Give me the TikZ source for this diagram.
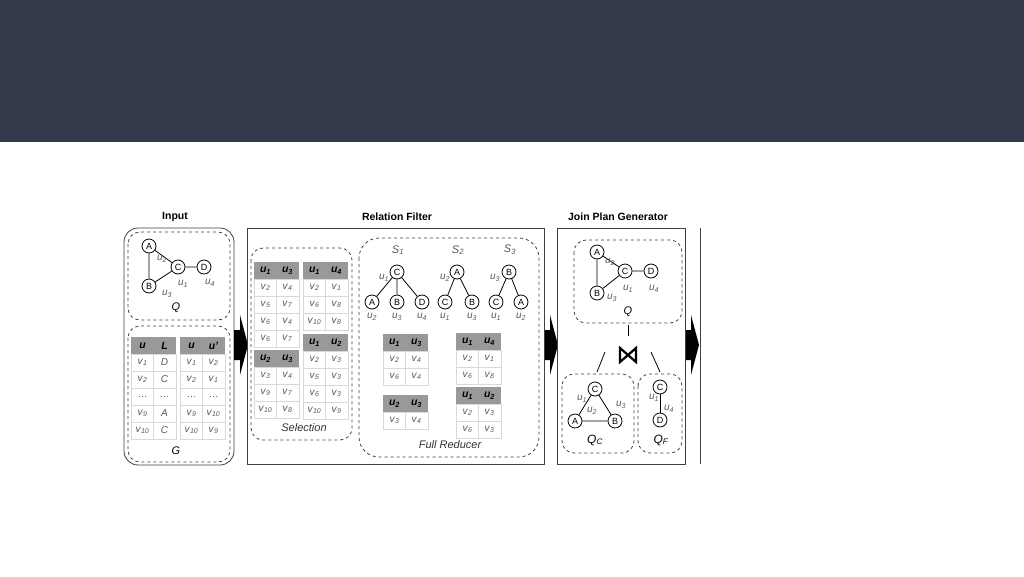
\documentclass[tikz,border=0pt]{standalone}
\usepackage{fontspec}
\setmainfont{Liberation Sans}
\newcommand\V[1]{\textit{v}\textsubscript{\textit{#1}}}
\newcommand\U[1]{\textit{u}\textsubscript{\textit{#1}}}
\newcommand\HU[1]{\textbf{\textit{u}\textsubscript{\textit{#1}}}}
\tikzset{
 vx/.style={circle,draw,thick,inner sep=0pt,minimum size=14pt,font=\fontsize{9}{9}\selectfont},
 lb/.style={text=black!65,font=\fontsize{10}{10}\selectfont},
 dbox/.style={draw,dashed,thick,rounded corners=12pt,black!75},
 sbox/.style={draw,thick,black!75},
 ttl/.style={font=\bfseries\fontsize{10.5}{10.5}\selectfont},
 hdr/.style={fill=black!40},
 cell/.style={draw=black!15,thin},
 ct/.style={text=black!65,font=\fontsize{10}{10}\selectfont},
 ht/.style={font=\fontsize{10.5}{10.5}\selectfont},
 bigarrow/.style={fill=black},
 edge/.style={thick}
}
\newcommand\tbl[5]{%
 \fill[hdr] (#1,#2) rectangle ++(45,17);
 \node[ht] at (#1+11.5,#2+8.5) {#3};
 \node[ht] at (#1+33.5,#2+8.5) {#4};
 \foreach \a/\b [count=\i] in {#5} {
  \draw[cell] (#1,#2+17*\i) rectangle ++(22.5,17);
  \draw[cell] (#1+22.5,#2+17*\i) rectangle ++(22.5,17);
  \node[ct] at (#1+11.5,#2+17*\i+8.5) {\a};
  \node[ct] at (#1+33.5,#2+17*\i+8.5) {\b};
 }}
\begin{document}
\begin{tikzpicture}[x=1pt,y=-1pt]
\useasboundingbox (0,0) rectangle (1024,576);
\fill[white] (0,0) rectangle (1024,576);
\fill[fill={rgb,255:red,50;green,58;blue,76}] (0,0) rectangle (1024,142);
% titles
\node[ttl] (tin) at (175,217) {Input};
\node[ttl] (trf) at (397,217) {Relation Filter};
\node[ttl] (tjp) at (618,217) {Join Plan Generator};
% Input
\draw[sbox,rounded corners=14pt] (124,228) rectangle (234,465);
\draw[dbox] (128,232) rectangle (230,320);
\node[vx] (iA) at (149,246) {A};
\node[vx] (iB) at (149,286) {B};
\node[vx] (iC) at (178,267) {C};
\node[vx] (iD) at (204,267) {D};
\draw[edge] (iA)--(iB) (iA)--(iC) (iB)--(iC) (iC)--(iD);
\node[lb] (il2) at (162,259) {\U2};
\node[lb] (il1) at (183,284) {\U1};
\node[lb] (il4) at (210,283) {\U4};
\node[lb] (il3) at (167,294) {\U3};
\node[font=\itshape\fontsize{11}{11}\selectfont] (iQ) at (176,308) {Q};
\draw[dbox] (128,326) rectangle (230,462);
\tbl{131}{337}{\textbf{\textit{u}}}{\textbf{\textit{L}}}{\V1/\textit{D},\V2/\textit{C},\dots/\dots,\V9/\textit{A},\V{10}/\textit{C}}
\tbl{180}{337}{\textbf{\textit{u}}}{\textbf{\textit{u'}}}{\V1/\V2,\V2/\V1,\dots/\dots,\V9/\V{10},\V{10}/\V9}
\node[font=\itshape\fontsize{11}{11}\selectfont] (iG) at (176,451) {G};
% arrows
\foreach \x in {234,544,685}
 \fill[bigarrow] (\x,330)--(\x+6,330)--(\x+6,315)--(\x+14,345)--(\x+6,375)--(\x+6,360)--(\x,360)--cycle;
% Relation filter
\draw[sbox] (247,228) rectangle (544,464);
\draw[dbox] (251,248) rectangle (352,440);
\tbl{254}{262}{\HU1}{\HU3}{\V2/\V4,\V5/\V7,\V6/\V4,\V6/\V7}
\tbl{254}{350}{\HU2}{\HU3}{\V3/\V4,\V9/\V7,\V{10}/\V8}
\tbl{303}{262}{\HU1}{\HU4}{\V2/\V1,\V6/\V8,\V{10}/\V8}
\tbl{303}{334}{\HU1}{\HU2}{\V2/\V3,\V5/\V3,\V6/\V3,\V{10}/\V9}
\node[font=\itshape\fontsize{11}{11}\selectfont,text=black!80] (sel) at (304,428) {Selection};
\draw[dbox,rounded corners=20pt] (359,238) rectangle (539,457);
\node[lb,font=\fontsize{11}{11}\selectfont] (s1) at (398,250) {\textit{S}\textsubscript{\textit{1}}};
\node[lb,font=\fontsize{11}{11}\selectfont] (s2) at (458,250) {\textit{S}\textsubscript{\textit{2}}};
\node[lb,font=\fontsize{11}{11}\selectfont] (s3) at (510,250) {\textit{S}\textsubscript{\textit{3}}};
\node[vx] (aC) at (397,272) {C};
\node[vx] (aA) at (372,302) {A};
\node[vx] (aB) at (397,302) {B};
\node[vx] (aD) at (422,302) {D};
\draw[edge] (aC)--(aA) (aC)--(aB) (aC)--(aD);
\node[lb] at (384,278) {\U1};
\node[lb] at (372,317) {\U2};
\node[lb] at (397,317) {\U3};
\node[lb] at (422,317) {\U4};
\node[vx] (bA) at (457,272) {A};
\node[vx] (bC) at (445,302) {C};
\node[vx] (bB) at (472,302) {B};
\draw[edge] (bA)--(bC) (bA)--(bB);
\node[lb] at (445,278) {\U2};
\node[lb] at (445,317) {\U1};
\node[lb] at (472,317) {\U3};
\node[vx] (cB) at (509,272) {B};
\node[vx] (cC) at (496,302) {C};
\node[vx] (cA) at (521,302) {A};
\draw[edge] (cB)--(cC) (cB)--(cA);
\node[lb] at (495,278) {\U3};
\node[lb] at (496,317) {\U1};
\node[lb] at (521,317) {\U2};
\tbl{383}{334}{\HU1}{\HU3}{\V2/\V4,\V6/\V4}
\tbl{383}{395}{\HU2}{\HU3}{\V3/\V4}
\tbl{456}{333}{\HU1}{\HU4}{\V2/\V1,\V6/\V8}
\tbl{456}{387}{\HU1}{\HU2}{\V2/\V3,\V6/\V3}
\node[font=\itshape\fontsize{11}{11}\selectfont,text=black!80] (fr) at (450,445) {Full Reducer};
% Join plan generator
\draw[sbox] (557,228) rectangle (685,464);
\draw[dbox] (574,240) rectangle (682,323);
\node[vx] (jA) at (597,252) {A};
\node[vx] (jB) at (597,293) {B};
\node[vx] (jC) at (625,271) {C};
\node[vx] (jD) at (651,271) {D};
\draw[edge] (jA)--(jB) (jA)--(jC) (jB)--(jC) (jC)--(jD);
\node[lb] at (610,262) {\U2};
\node[lb] at (628,289) {\U1};
\node[lb] at (654,289) {\U4};
\node[lb] at (612,298) {\U3};
\node[font=\itshape\fontsize{11}{11}\selectfont] (jQ) at (628,312) {Q};
\coordinate (j1) at (628,325); \coordinate (j2) at (628,336);
\draw[thick] (j1)--(j2);
\coordinate (j3) at (605,352); \coordinate (j4) at (597,372);
\coordinate (j5) at (651,352); \coordinate (j6) at (660,372);
\draw[thick] (j3)--(j4) (j5)--(j6);
\draw[line width=2.2pt,line join=miter] (620,348)--(620,362)--(636,348)--(636,362)--cycle;
\draw[dbox] (562,374) rectangle (634,453);
\node[vx] (kC) at (595,389) {C};
\node[vx] (kA) at (575,421) {A};
\node[vx] (kB) at (615,421) {B};
\draw[edge] (kC)--(kA) (kC)--(kB) (kA)--(kB);
\node[lb] at (582,399) {\U1};
\node[lb] at (592,411) {\U2};
\node[lb] at (621,405) {\U3};
\node[font=\itshape\fontsize{12}{12}\selectfont] (qc) at (595,440) {Q\textsubscript{\textit{C}}};
\draw[dbox] (638,374) rectangle (682,453);
\node[vx] (fC) at (660,387) {C};
\node[vx] (fD) at (660,420) {D};
\draw[edge] (fC)--(fD);
\node[lb] at (654,398) {\U1};
\node[lb] at (669,409) {\U4};
\node[font=\itshape\fontsize{12}{12}\selectfont] (qf) at (661,440) {Q\textsubscript{\textit{F}}};
% partial next box
\draw[sbox] (700,228)--(700,464);
\end{tikzpicture}
\end{document}
